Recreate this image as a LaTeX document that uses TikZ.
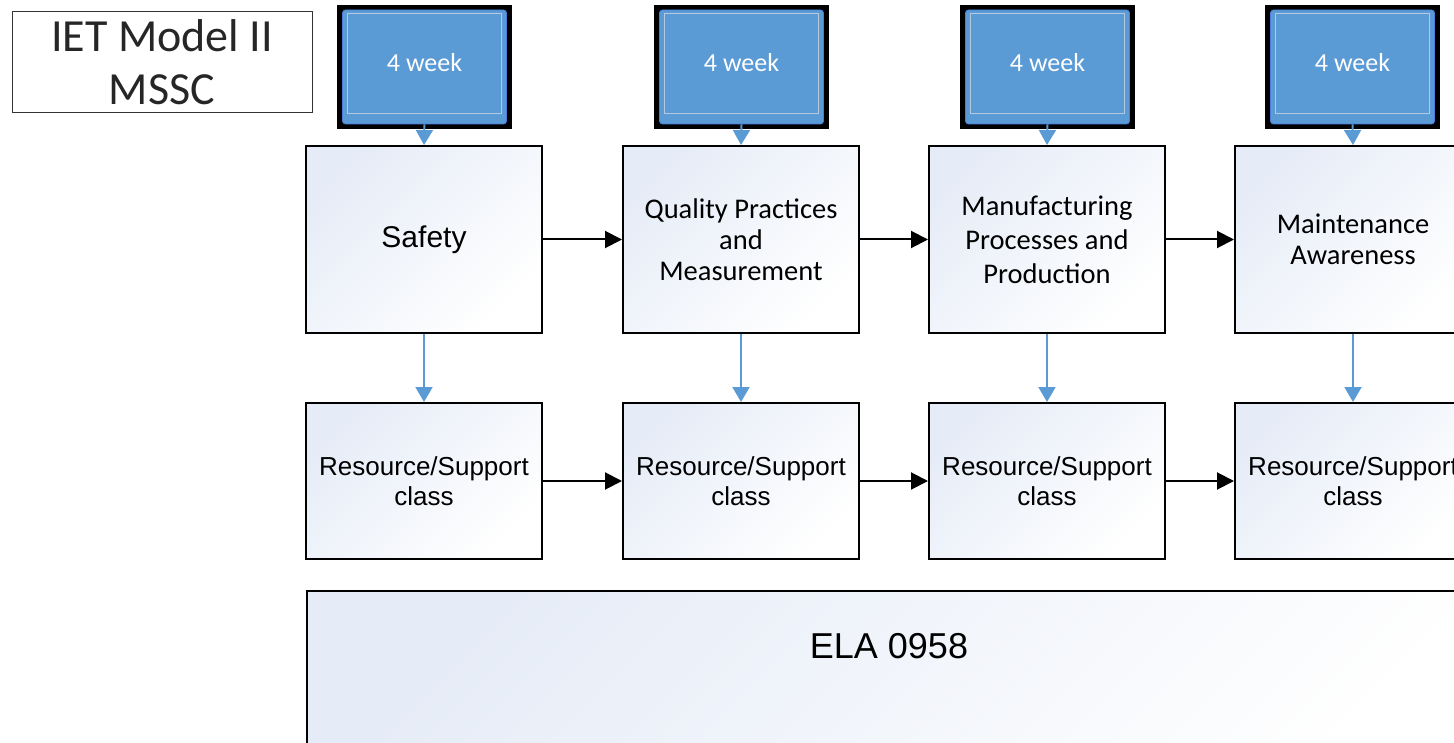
\documentclass[tikz,border=0pt]{standalone}
\usepackage{fontspec}
\setmainfont{Liberation Sans}
\newfontfamily\calfont{Carlito}
\usetikzlibrary{arrows.meta}
\definecolor{wkblue}{HTML}{5B9BD5}
\definecolor{wkline}{HTML}{B4C8E0}
\definecolor{boxtop}{HTML}{E6ECF7}
\definecolor{titletext}{HTML}{262626}
\begin{document}
\begin{tikzpicture}[x=1pt,y=-1pt,
  stage/.style={draw=black, line width=2pt, shading=axis, top color=boxtop, bottom color=white, shading angle=45, minimum width=236pt, align=center, inner sep=0pt},
  toprow/.style={stage, minimum height=187pt},
  botrow/.style={stage, minimum height=156pt, font=\fontsize{26}{30}\selectfont},
  calib/.style={font=\calfont\fontsize{28.5}{31}\selectfont},
  wkbg/.style={fill=black, minimum width=175pt, minimum height=124pt, inner sep=0pt},
  wkbox/.style={fill=wkblue, draw=wkblue!80!blue, line width=0.8pt, rounded corners=3pt, minimum width=164pt, minimum height=114pt, inner sep=0pt},
  wkin/.style={draw=wkline, line width=0.9pt, minimum width=154pt, minimum height=100pt, inner sep=0pt, text=white, font=\calfont\fontsize{26}{30}\selectfont},
  blk/.style={-{Triangle[length=17pt,width=17pt]}, line width=2pt, black},
  blu/.style={-{Triangle[length=15pt,width=17pt]}, line width=2pt, wkblue}
]
\useasboundingbox (0,0) rectangle (1454,743);
\clip (0,0) rectangle (1454,743);

% title
\node[draw=black!80, line width=1pt, minimum width=300pt, minimum height=101pt, align=center, inner sep=0pt, text=titletext, font=\calfont\fontsize{46}{53}\selectfont] (title) at (162,62.5) {IET Model II\\MSSC};

% week boxes
\foreach \i/\cx in {1/424.5, 2/741.5, 3/1047.5, 4/1352.5} {
  \node[wkbg] (bg\i) at (\cx,67.5) {};
  \node[wkbox] (w\i) at (\cx,67) {};
  \node[wkin] (wt\i) at (\cx,63) {4 week};
}

% top row
\node[toprow, font=\fontsize{30}{34}\selectfont] (s1) at (424,239.5) {Safety};
\node[toprow, calib] (s2) at (741,239.5) {Quality Practices\\and\\Measurement};
\node[toprow, font=\calfont\fontsize{28.5}{34}\selectfont] (s3) at (1047,239.5) {Manufacturing\\Processes and\\Production};
\node[toprow, calib] (s4) at (1353,239.5) {Maintenance\\Awareness};

% bottom row
\node[botrow] (r1) at (424,481) {Resource/Support\\class};
\node[botrow] (r2) at (741,481) {Resource/Support\\class};
\node[botrow] (r3) at (1047,481) {Resource/Support\\class};
\node[botrow] (r4) at (1353,481) {Resource/Support\\class};

% ELA
\node[stage, minimum width=1166pt, minimum height=230pt, anchor=north west] (ela) at (306,590) {};
\node[font=\fontsize{36}{40}\selectfont, inner sep=0pt] (elat) at (889,646) {ELA 0958};

% arrows
\foreach \i in {1,2,3,4} {
  \draw[blu] (w\i.south) -- (s\i.north);
  \draw[blu] (s\i.south) -- (r\i.north);
}
\draw[blk] (s1.east) -- (s2.west);
\draw[blk] (s2.east) -- (s3.west);
\draw[blk] (s3.east) -- (s4.west);
\draw[blk] (r1.east) -- (r2.west);
\draw[blk] (r2.east) -- (r3.west);
\draw[blk] (r3.east) -- (r4.west);
\end{tikzpicture}
\end{document}
